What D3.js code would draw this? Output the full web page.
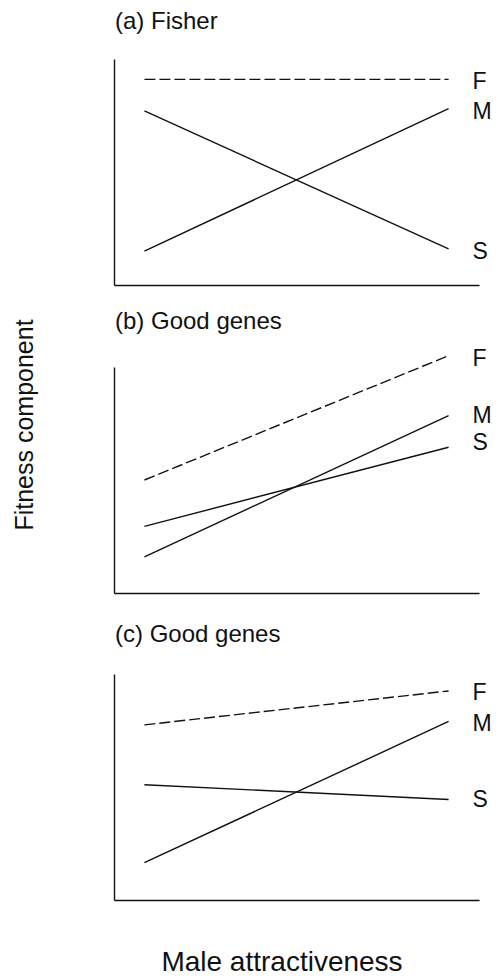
<!DOCTYPE html>
<html>
<head>
<meta charset="utf-8">
<script src="https://cdn.jsdelivr.net/npm/d3@7"></script>
<style>
  body { margin: 0; background: #fff; }
  svg text { font-family: "Liberation Sans", Arial, Helvetica, sans-serif; fill: #111; }
  .axes path { stroke: #111; stroke-width: 1.4; }
  .curve { fill: none; stroke: #111; stroke-width: 1.4; }
  .dashed { stroke-dasharray: 11, 4; }
</style>
</head>
<body>
<svg width="499" height="979"></svg>
<script>
// x positions of the two ends of each line (axis runs 0..12)
const ends = [1, 11];
const series = ["F", "M", "S"];

// panel titles
const titles = ["(a) Fisher", "(b) Good genes", "(c) Good genes"];

// fitness component values at low / high attractiveness (axis runs 0..10)
const fisherF = [9.1, 9.1];
const fisherM = [1.5, 7.8];
const fisherS = [7.7, 1.6];

const goodGenesF = [5.0, 10.5];
const goodGenesM = [1.6, 7.85];
const goodGenesS = [2.95, 6.45];

const goodGenes2F = [7.75, 9.25];
const goodGenes2M = [1.65, 7.9];
const goodGenes2S = [5.1, 4.45];

const panelValues = [
  [fisherF, fisherM, fisherS],
  [goodGenesF, goodGenesM, goodGenesS],
  [goodGenes2F, goodGenes2M, goodGenes2S]
];

// layout: axis bottom, title baseline, label offsets per panel
const layout = [
  { bottom: 285, title: 29,  labelDy: [10, 10, 10] },
  { bottom: 593, title: 329, labelDy: [10, 7, 3] },
  { bottom: 900, title: 642, labelDy: [9, 10, 8] }
];
const panelHeight = 226;
const left = 114, right = 479;

const svg = d3.select("svg");

const xScale = d3.scaleLinear().domain([0, 12]).range([left, right]);

panelValues.forEach((values, p) => {
  const lay = layout[p];
  const yScale = d3.scaleLinear().domain([0, 10]).range([lay.bottom, lay.bottom - panelHeight]);
  const chart = svg.append("g");

  //title
  chart.append("text")
    .attr("x", left + 1)
    .attr("y", lay.title)
    .style("font-size", "24px")
    .text(titles[p]);

  //axes without ticks
  chart.append("g")
    .attr("class", "axes")
    .attr("transform", `translate(${left}, 0)`)
    .call(d3.axisLeft(yScale).ticks(0).tickSizeOuter(0));

  chart.append("g")
    .attr("class", "axes")
    .attr("transform", `translate(0, ${lay.bottom})`)
    .call(d3.axisBottom(xScale).ticks(0).tickSizeOuter(0));

  const line = d3.line()
    .x((d, i) => xScale(ends[i]))
    .y(d => yScale(d));

  values.forEach((v, s) => {
    chart.append("path")
      .attr("class", s == 0 ? "curve dashed" : "curve")
      .attr("d", line(v));

    chart.append("text")
      .attr("x", xScale(ends[1]) + 24)
      .attr("y", yScale(v[1]) + lay.labelDy[s])
      .style("font-size", "23px")
      .text(series[s]);
  });
});

// axis labels
svg.append("text")
  .attr("text-anchor", "middle")
  .attr("transform", "translate(33, 425) rotate(-90)")
  .style("font-size", "25px")
  .text("Fitness component");

svg.append("text")
  .attr("text-anchor", "middle")
  .attr("x", 282)
  .attr("y", 971)
  .style("font-size", "28px")
  .text("Male attractiveness");
</script>
</body>
</html>
